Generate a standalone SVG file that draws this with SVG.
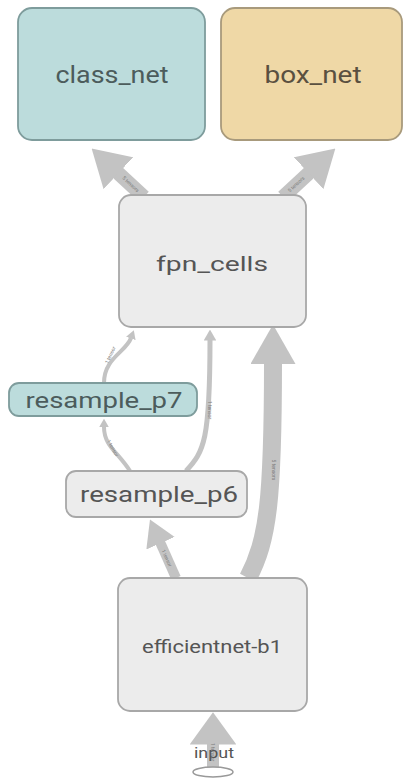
<svg xmlns="http://www.w3.org/2000/svg" width="404" height="779" viewBox="0 0 404 779">
<style>
.node rect{stroke-width:1.8}
.gray rect{fill:#ececec;stroke:#a8a8a8}
.teal rect{fill:#bcdcdc;stroke:#7e9c9c}
.tan rect{fill:#efd8a6;stroke:#a89a7c}
.lbl{font-family:Roboto,"Liberation Sans",sans-serif;text-anchor:middle;dominant-baseline:central}
.edge{fill:none;stroke:#c3c3c3}
.elbl{font-family:Roboto,"Liberation Sans",sans-serif;font-size:5px;fill:#7a7a7a;text-anchor:middle;dominant-baseline:central}
</style>
<defs>
<marker id="ah" viewBox="0 0 10 10" refX="0.5" refY="5" markerWidth="2.2" markerHeight="2.5" markerUnits="strokeWidth" orient="auto" preserveAspectRatio="none">
<path d="M0,0 L10,5 L0,10 z" fill="#c3c3c3"/>
</marker>
<marker id="ahw" viewBox="0 0 10 10" refX="0.5" refY="5" markerWidth="2.6" markerHeight="3.1" markerUnits="strokeWidth" orient="auto" preserveAspectRatio="none">
<path d="M0,0 L10,5 L0,10 z" fill="#c3c3c3"/>
</marker>
<marker id="ah2" viewBox="0 0 10 10" refX="0.5" refY="5" markerWidth="2.7" markerHeight="3.9" markerUnits="strokeWidth" orient="auto" preserveAspectRatio="none">
<path d="M0,0 L10,5 L0,10 z" fill="#c3c3c3"/>
</marker>
</defs>
<rect width="404" height="779" fill="#ffffff"/>
<g id="edges">
<path class="edge" d="M144,197 L117,172" stroke-width="14" marker-end="url(#ahw)"/>
<path class="edge" d="M283,197 L310,172" stroke-width="14" marker-end="url(#ahw)"/>
<path class="edge" d="M104,383 C104,358 126,352 131,338" stroke-width="4" marker-end="url(#ah)"/>
<path class="edge" d="M130,471 C118,452 104,446 104,427" stroke-width="4" marker-end="url(#ah)"/>
<path class="edge" d="M186,471 C204,452 210,440 210,340" stroke-width="5" marker-end="url(#ah)"/>
<path class="edge" d="M176,578 L160,542" stroke-width="10" marker-end="url(#ahw)"/>
<path class="edge" d="M248,578 C268,540 273,500 273,362" stroke-width="18" marker-end="url(#ah)"/>
<path class="edge" d="M213,768 L213,743" stroke-width="12" marker-end="url(#ah2)"/>
<text class="elbl" transform="translate(131,184) rotate(43)">5 tensors</text>
<text class="elbl" transform="translate(296,184) rotate(-43)">5 tensors</text>
<text class="elbl" transform="translate(274,470) rotate(90)">5 tensors</text>
<text class="elbl" transform="translate(210,410) rotate(90)">1 tensor</text>
<text class="elbl" transform="translate(110,355) rotate(-65)">1 tensor</text>
<text class="elbl" transform="translate(113,448) rotate(60)">1 tensor</text>
<text class="elbl" transform="translate(167,558) rotate(66)">1 tensor</text>
<text class="elbl" transform="translate(213,752) rotate(90)">1 tensor</text>
</g>
<g id="class_net" class="node teal"><rect x="18" y="8" width="187" height="132" rx="14"/><text class="lbl" x="112" y="75" font-size="24" textLength="113" lengthAdjust="spacingAndGlyphs" fill="#4c5c5c">class_net</text></g>
<g id="box_net" class="node tan"><rect x="221" y="8" width="181" height="132" rx="14"/><text class="lbl" x="313" y="75" font-size="24" textLength="97" lengthAdjust="spacingAndGlyphs" fill="#5a5040">box_net</text></g>
<g id="fpn_cells" class="node gray"><rect x="119" y="195" width="187" height="132" rx="12"/><text class="lbl" x="212" y="264" font-size="21" textLength="112" lengthAdjust="spacingAndGlyphs" fill="#555">fpn_cells</text></g>
<g id="resample_p7" class="node teal"><rect x="9" y="383" width="188" height="33" rx="10"/><text class="lbl" x="104" y="400" font-size="22" textLength="157" lengthAdjust="spacingAndGlyphs" fill="#4c5c5c">resample_p7</text></g>
<g id="resample_p6" class="node gray"><rect x="66" y="471" width="181" height="46" rx="10"/><text class="lbl" x="159" y="494" font-size="22" textLength="158" lengthAdjust="spacingAndGlyphs" fill="#555">resample_p6</text></g>
<g id="efficientnet-b1" class="node gray"><rect x="118" y="578" width="189" height="133" rx="12"/><text class="lbl" x="212" y="646" font-size="18" textLength="140" lengthAdjust="spacingAndGlyphs" fill="#555">efficientnet-b1</text></g>
<g id="input" class="node"><ellipse cx="213" cy="772" rx="20" ry="5" fill="#fff" stroke="#999" stroke-width="1.5"/><text class="lbl" x="214" y="753" font-size="15" textLength="40" lengthAdjust="spacingAndGlyphs" fill="#555">input</text></g>
</svg>
